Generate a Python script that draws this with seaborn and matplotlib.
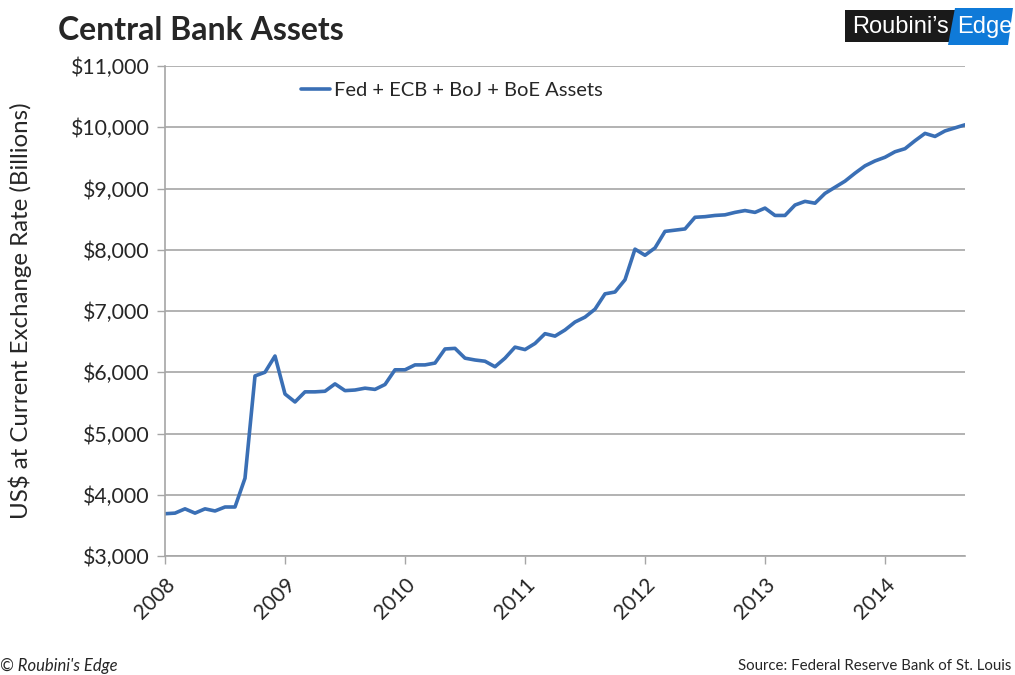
import matplotlib
matplotlib.use("Agg")
import matplotlib.pyplot as plt
import seaborn as sns
import numpy as np
import pandas as pd
from matplotlib.ticker import FuncFormatter
from matplotlib.patches import Rectangle, Polygon

# Monthly data Jan 2008 .. Sep 2014 (US$ billions)
start_year = 2008
assets = [
    3690, 3700, 3770, 3700, 3770, 3735, 3800, 3800, 4270, 5940, 6000, 6265,   # 2008
    5645, 5515, 5680, 5680, 5690, 5810, 5700, 5710, 5740, 5720, 5800, 6040,   # 2009
    6040, 6120, 6120, 6150, 6380, 6390, 6230, 6200, 6180, 6090, 6230, 6410,   # 2010
    6370, 6470, 6630, 6590, 6690, 6820, 6900, 7030, 7280, 7310, 7510, 8010,   # 2011
    7910, 8030, 8300, 8320, 8340, 8530, 8540, 8560, 8570, 8610, 8640, 8610,   # 2012
    8680, 8560, 8560, 8730, 8790, 8760, 8920, 9020, 9120, 9250, 9370, 9450,   # 2013
    9510, 9600, 9650, 9780, 9900, 9850, 9940, 9990, 10040,                    # 2014
]
series_label = "Fed + ECB + BoJ + BoE Assets"
year_ticks = [2008, 2009, 2010, 2011, 2012, 2013, 2014]
y_ticks = [3000, 4000, 5000, 6000, 7000, 8000, 9000, 10000, 11000]

df = pd.DataFrame({
    "t": [start_year + i / 12 for i in range(len(assets))],
    "v": assets,
})

sns.set_theme(style="white")
plt.rcParams["font.family"] = ["Lato", "DejaVu Sans"]

W, H = 1015, 675
fig = plt.figure(figsize=(W / 100, H / 100), dpi=100)
ax = fig.add_axes([165 / W, 119 / H, 800 / W, 490 / H])

sns.lineplot(data=df, x="t", y="v", ax=ax, color="#3a6fb5", linewidth=2.6,
             label=series_label)

ax.set_xlim(2008, df["t"].iloc[-1])
ax.set_ylim(3000, 11000)
ax.set_yticks(y_ticks)
ax.set_xticks(year_ticks)
ax.set_xticklabels([str(y) for y in year_ticks], rotation=45, ha="right",
                   rotation_mode="anchor", fontsize=15)
ax.yaxis.set_major_formatter(FuncFormatter(lambda v, p: f"${v:,.0f}"))
ax.tick_params(axis="y", labelsize=15.3, length=6, width=1, color="#a6a6a6",
               direction="out", left=True, pad=5)
ax.tick_params(axis="x", length=6, width=1, color="#a6a6a6", direction="out",
               bottom=True, pad=7)

ax.grid(axis="y", color="#a6a6a6", linewidth=1.2)
ax.grid(axis="x", visible=False)
for s in ["top", "right"]:
    ax.spines[s].set_visible(False)
for s in ["left", "bottom"]:
    ax.spines[s].set_color("#a6a6a6")
    ax.spines[s].set_linewidth(1.2)

ax.set_xlabel("")
ax.set_ylabel("US$ at Current Exchange Rate (Billions)", fontsize=17.3, labelpad=28)

leg = ax.legend(loc="upper left", bbox_to_anchor=(0.152, 0.997), frameon=False,
                fontsize=14.5, handlelength=1.45, handletextpad=0.2,
                borderaxespad=0.3)

fig.text(58 / W, 1 - 30 / H, "Central Bank Assets", fontsize=23,
         fontweight="bold", va="center", ha="left")

# logo
fig.patches.append(Rectangle((845 / W, 1 - 42 / H), 110 / W, 32 / H,
                             transform=fig.transFigure, fc="#1a1a1a", ec="none"))
fig.patches.append(Polygon([(948 / W, 1 - 45 / H), (1008 / W, 1 - 45 / H),
                            (1013 / W, 1 - 8 / H), (955 / W, 1 - 8 / H)],
                           closed=True, transform=fig.transFigure,
                           fc="#0f7ad8", ec="none"))
logo_font = ["Liberation Sans Narrow", "Liberation Sans", "DejaVu Sans"]
fig.text(852 / W, 1 - 27 / H, "Roubini\u2019s", fontsize=17, color="white",
         va="center", ha="left", family=logo_font)
fig.text(957 / W, 1 - 27 / H, "Edge", fontsize=17, color="white",
         va="center", ha="left", family=logo_font)

fig.text(0.0, 1 - 666 / H, "\u00a9 Roubini's Edge", fontsize=12,
         style="italic", va="center", ha="left")
fig.text(1011 / W, 1 - 666 / H, "Source: Federal Reserve Bank of St. Louis",
         fontsize=10.8, va="center", ha="right")

fig.savefig("out.png", dpi=100)
